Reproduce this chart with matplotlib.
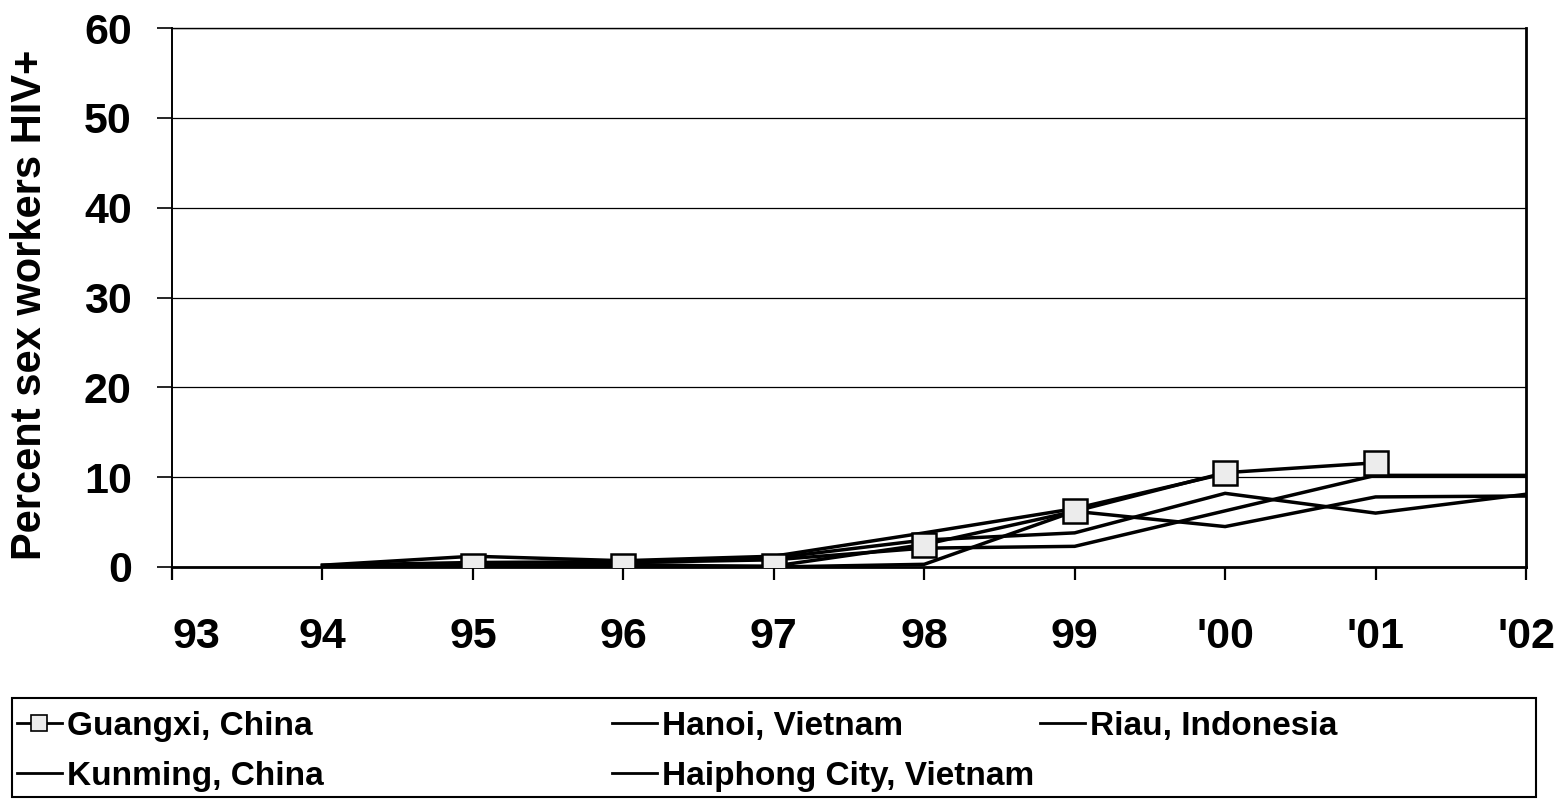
import numpy as np
import matplotlib
matplotlib.use("Agg")
import matplotlib.pyplot as plt
from matplotlib.lines import Line2D
from matplotlib.patches import Rectangle

plt.rcParams['font.family'] = ['Liberation Sans', 'DejaVu Sans']
plt.rcParams['font.weight'] = 'bold'

# Survey years (x positions) and their axis labels
years = [1993, 1994, 1995, 1996, 1997, 1998, 1999, 2000, 2001, 2002]
year_labels = ["93", "94", "95", "96", "97", "98", "99", "'00", "'01", "'02"]

nan = np.nan
# Percent of sex workers HIV+ by site
guangxi = [nan, nan, 0.1, 0.1, 0.1, 2.5, 6.2, 10.5, 11.6, nan]
hanoi = [nan, 0.2, 1.2, 0.7, 1.2, 3.8, 6.5, 10.4, nan, nan]
riau = [nan, 0.2, 0.5, 0.6, 1.0, 3.0, 3.8, 8.2, 6.0, 8.1]
kunming = [nan, 0.1, 0.2, 0.3, 0.0, 0.3, 6.2, 4.5, 7.8, 7.9]
haiphong = [nan, nan, nan, 0.5, 0.8, 2.1, 2.3, nan, 10.2, 10.2]

series_names = ["Guangxi, China", "Hanoi, Vietnam", "Riau, Indonesia",
                "Kunming, China", "Haiphong City, Vietnam"]

W, H, DPI = 1563, 799, 100
fig = plt.figure(figsize=(W / DPI, H / DPI), dpi=DPI)
ax = fig.add_axes([172 / W, 1 - 567 / H, (1526 - 172) / W, (567 - 28) / H])

lw = 2.5


def plot_series(vals, **kw):
    x = np.array(years, dtype=float)
    y = np.array(vals, dtype=float)
    m = ~np.isnan(y)
    ax.plot(x[m], y[m], color='black', lw=lw, solid_joinstyle='miter', **kw)


plot_series(riau, zorder=3)
plot_series(kunming, zorder=3)
plot_series(haiphong, zorder=3)
plot_series(hanoi, zorder=3)
plot_series(guangxi, marker='s', markersize=17, markerfacecolor='#ececec',
            markeredgecolor='black', markeredgewidth=1.8, zorder=4)

ax.set_xlim(1993, 2002)
ax.set_ylim(0, 60)
ax.set_yticks(range(0, 61, 10))
ax.set_xticks(years)
ax.set_xticklabels(year_labels)
ax.yaxis.grid(True, color='black', lw=0.9)
ax.set_axisbelow(True)

ax.spines['left'].set_linewidth(1.4)
ax.spines['right'].set_linewidth(2.0)
ax.spines['bottom'].set_linewidth(2.0)
ax.spines['top'].set_linewidth(1.0)

ax.tick_params(axis='y', direction='out', length=11, width=1.2, pad=18,
               labelsize=31)
ax.tick_params(axis='x', direction='out', length=9, width=1.6, pad=27,
               labelsize=31)
for t in ax.get_yticklabels() + ax.get_xticklabels():
    t.set_fontweight('bold')
ax.get_xticklabels()[0].set_horizontalalignment('left')

fig.text(30 / W, 1 - 305 / H, "Percent sex workers HIV+", rotation=90,
         ha='center', va='center', fontsize=30, fontweight='bold')

# Legend box drawn in figure pixels
box = Rectangle((12 / W, 1 - 797 / H), (1536 - 12) / W, (797 - 698) / H,
                transform=fig.transFigure, fill=False, edgecolor='black',
                lw=1.5)
fig.patches.append(box)

entries = [
    (series_names[0], 17, 723, True),
    (series_names[1], 612, 723, False),
    (series_names[2], 1040, 723, False),
    (series_names[3], 17, 773, False),
    (series_names[4], 612, 773, False),
]
for name, x0, yc, has_marker in entries:
    yf = 1 - yc / H
    ln = Line2D([x0 / W, (x0 + 45) / W], [yf, yf], transform=fig.transFigure,
                color='black', lw=2.0)
    fig.lines.append(ln)
    if has_marker:
        mk = Line2D([(x0 + 22) / W], [yf], transform=fig.transFigure,
                    marker='s', markersize=11, markerfacecolor='#ececec',
                    markeredgecolor='black', markeredgewidth=1.2,
                    linestyle='none')
        fig.lines.append(mk)
    fig.text((x0 + 50) / W, yf, name, ha='left', va='center_baseline',
             fontsize=24, fontweight='bold')

fig.savefig("out.png", dpi=DPI)
